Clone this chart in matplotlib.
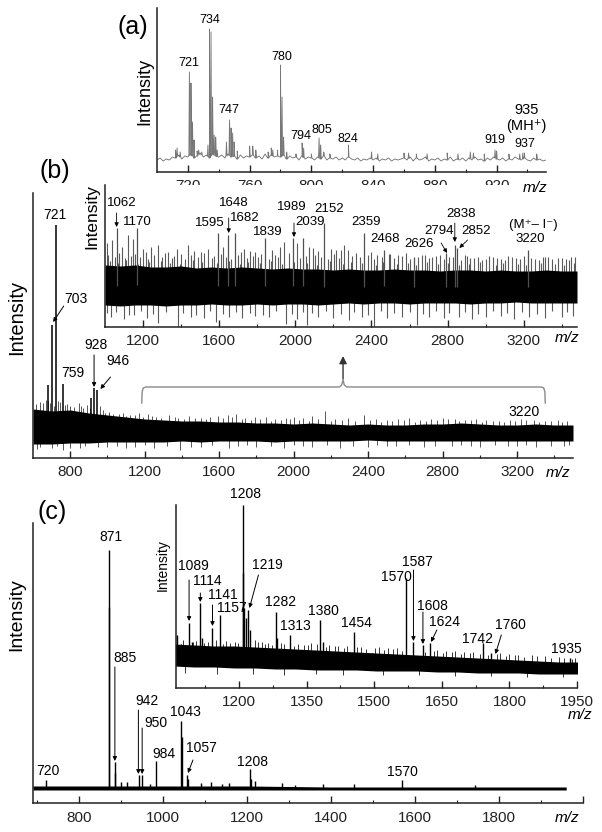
import matplotlib
matplotlib.use('Agg')
import numpy as np
import matplotlib.pyplot as plt
from matplotlib.ticker import FixedLocator
from matplotlib.lines import Line2D

plt.rcParams['font.family'] = ['Liberation Sans', 'DejaVu Sans']
plt.rcParams['axes.linewidth'] = 1.1

# ======================= DATA =======================
# ---- (a) MS spectrum, 700-952 ----
a_base_mz = np.arange(700, 953, 2)
a_base_int = [12, 14, 11, 13, 12, 15, 14, 17, 13, 16,
              15, 18, 14, 16, 19, 15, 17, 14, 18, 16,
              15, 17, 14, 18, 15, 16, 13, 17, 14, 16,
              15, 17, 14, 16, 13, 18, 14, 17, 15, 16,
              15, 17, 13, 16, 14, 15, 12, 16, 13, 15,
              14, 12, 15, 13, 16, 12, 14, 13, 15, 12,
              14, 12, 15, 13, 12, 14, 11, 13, 12, 14,
              12, 14, 11, 13, 12, 14, 11, 13, 12, 13,
              14, 12, 15, 11, 14, 12, 13, 15, 11, 13,
              12, 14, 11, 13, 12, 15, 11, 13, 12, 14,
              11, 14, 12, 15, 12, 13, 11, 14, 12, 15,
              13, 12, 14, 11, 13, 12, 15, 13, 12, 14,
              12, 11, 14, 12, 13, 11, 12]
a_pk_mz = [712, 713, 715, 721, 722, 723, 724, 726, 727, 729, 733, 734, 735, 736, 737, 738, 739,
           745, 747, 748, 749, 750, 752, 760, 762, 764, 772, 774, 775, 778, 780, 781, 782, 784,
           790, 794, 795, 800, 805, 806, 808, 812, 824, 839, 843, 860, 863, 868, 875, 888, 895,
           903, 905, 912, 919, 920, 928, 935, 937, 938, 946]
a_pk_int = [22, 24, 20, 100, 89, 50, 32, 21, 22, 20, 27, 143, 140, 75, 37, 35, 22,
            30, 52, 44, 39, 30, 21, 26, 26, 22, 20, 24, 22, 22, 107, 75, 35, 20,
            18, 29, 24, 18, 34, 27, 20, 18, 27, 20, 18, 19, 19, 18, 18, 19, 18,
            20, 19, 18, 22, 21, 18, 18, 19, 19, 18]
a_ticks = [720, 760, 800, 840, 880, 920]
a_minor = [740, 780, 820, 860, 900, 940]

# ---- (b) main spectrum, 600-3500 ----
b_band_mz = np.arange(600, 3501, 100)
b_band_hi = [49, 47, 48, 45, 43, 41, 39, 38, 37, 37,
             36, 36, 35, 35, 34, 35, 34, 33, 34, 33,
             33, 34, 34, 35, 34, 33, 33, 34, 33, 33]
b_band_lo = [14, 14, 15, 15, 16, 16, 16, 16, 17, 16,
             17, 17, 17, 16, 17, 17, 17, 17, 18, 17,
             17, 17, 17, 17, 17, 17, 17, 17, 17, 17]
b_pk_mz = [681, 703, 721, 759, 910, 928, 946]
b_pk_int = [73, 133, 233, 74, 60, 70, 68]
b_up_mz = [640, 668, 690, 735, 780, 800, 845, 870, 890, 960, 989, 1030, 1081, 1120, 1170, 1215,
           1260, 1330, 1380, 1440, 1500, 1550, 1595, 1648, 1692, 1740, 1790, 1849, 1900, 1960,
           2000, 2050, 2100, 2167, 2220, 2290, 2378, 2440, 2500, 2560, 2620, 2680, 2740, 2800,
           2865, 2920, 2980, 3032, 3100, 3160, 3220, 3290, 3350, 3420, 3470,
           615, 655, 680, 715, 745, 770, 820, 860, 905, 975, 1010, 1060, 1100, 1150, 1190, 1240,
           1290, 1360, 1410, 1470, 1530, 1620, 1670, 1720, 1770, 1820, 1880, 1930, 1980, 2030,
           2080, 2130, 2200, 2260, 2330, 2410, 2470, 2530, 2590, 2650, 2710, 2770, 2830, 2890,
           2950, 3010, 3070, 3130, 3190, 3250, 3320, 3380, 3440]
b_up_int = [56, 58, 55, 57, 54, 52, 55, 50, 53, 52, 45, 44, 45, 43, 45, 44,
            41, 43, 40, 42, 40, 41, 42, 43, 44, 40, 41, 41, 39, 40,
            41, 40, 42, 47, 39, 40, 43, 39, 38, 39, 40, 38, 39, 40,
            39, 38, 39, 38, 37, 38, 39, 38, 37, 38, 37,
            54, 55, 57, 52, 56, 53, 51, 52, 50, 48, 46, 44, 42, 43, 41, 42,
            40, 41, 39, 40, 39, 40, 41, 39, 38, 39, 37, 38, 39, 38,
            37, 39, 37, 38, 37, 38, 36, 37, 38, 36, 37, 38, 39, 37,
            38, 36, 37, 36, 37, 38, 36, 37, 36]
b_dn_mz = [620, 700, 760, 850, 1000, 1100, 1250, 1389, 1500, 1650, 1800, 1950, 2100, 2250,
           2400, 2550, 2700, 2850, 3000, 3150, 3300, 3450,
           640, 730, 800, 880, 950, 1050, 1150, 1200, 1320, 1450, 1560, 1700, 1750, 1880,
           2000, 2050, 2180, 2320, 2450, 2500, 2620, 2760, 2900, 2950, 3080, 3200, 3250, 3380, 3480]
b_dn_int = [9, 10, 8, 10, 11, 10, 10, 8, 11, 10, 11, 10, 11, 10, 11, 12, 11, 12, 11, 12, 11, 12,
            11, 12, 10, 12, 11, 12, 11, 13, 12, 11, 13, 12, 13, 12,
            13, 12, 13, 12, 13, 12, 13, 12, 13, 12, 13, 12, 13, 12, 13]
b_ticks = [800, 1200, 1600, 2000, 2400, 2800, 3200]
b_minor = [1000, 1400, 1800, 2200, 2600, 3000, 3400]

# ---- (b) inset, 1000-3480 ----
bi_band_mz = np.arange(1000, 3481, 80)
bi_band_hi = [62, 61, 62, 60, 60, 61, 59, 60, 59, 60,
              59, 58, 59, 58, 58, 57, 58, 57, 57, 58,
              57, 57, 56, 57, 57, 56, 57, 56, 56, 57,
              56, 56]
bi_band_lo = [22, 21, 22, 22, 21, 22, 22, 23, 22, 22,
              23, 22, 23, 23, 22, 23, 24, 23, 24, 24,
              23, 24, 24, 24, 23, 24, 24, 25, 24, 24,
              24, 24]
bi_pk_mz = [1062, 1170, 1595, 1648, 1682, 1839, 1989, 2039, 2152, 2359, 2468, 2626, 2794, 2838, 2852, 3220]
bi_pk_int = [99, 99, 94, 92, 94, 89, 89, 89, 104, 94, 77, 70, 74, 82, 79, 77]
bi_up_mz = [1008, 1035, 1090, 1120, 1147, 1200, 1240, 1280, 1333, 1380, 1435, 1470, 1504, 1540,
            1620, 1728, 1760, 1787, 1880, 1920, 1941, 2011, 2070, 2091, 2120, 2190, 2213, 2240,
            2256, 2277, 2320, 2400, 2430, 2500, 2540, 2580, 2680, 2720, 2760, 2827, 2900, 2940,
            2981, 3040, 3080, 3120, 3160, 3260, 3300, 3328, 3380, 3420, 3450,
            1015, 1050, 1075, 1105, 1135, 1160, 1185, 1215, 1225, 1260,
            1300, 1315, 1350, 1365, 1400, 1420, 1450, 1490, 1520, 1560,
            1575, 1610, 1635, 1660, 1700, 1715, 1745, 1775, 1805, 1820,
            1860, 1895, 1910, 1965, 2025, 2055, 2105, 2135, 2170, 2205,
            2230, 2300, 2340, 2380, 2415, 2455, 2490, 2520, 2560, 2600,
            2645, 2665, 2700, 2740, 2780, 2810, 2870, 2890, 2920, 2960,
            3000, 3020, 3060, 3100, 3140, 3180, 3200, 3240, 3280, 3310,
            3350, 3400, 3440, 3470,
            1025, 1068, 1112, 1175, 1232, 1292, 1342, 1392, 1462, 1512,
            1588, 1652, 1708, 1752, 1812, 1872, 1932, 1995, 2062, 2112,
            2182, 2248, 2292, 2352, 2422, 2462, 2532, 2592, 2632, 2692,
            2752, 2802, 2862, 2912, 2972, 3052, 3092, 3172, 3212, 3292,
            3362, 3412, 3462]
bi_up_int = [84, 87, 80, 92, 88, 78, 80, 82, 75, 78, 82, 76, 75, 78,
             80, 78, 76, 75, 77, 80, 85, 84, 80, 79, 76, 78, 77, 77,
             82, 77, 74, 75, 72, 73, 72, 74, 72, 70, 72, 70, 71, 69,
             67, 70, 68, 71, 69, 68, 70, 70, 69, 68, 70,
             72, 70, 74, 69, 71, 73, 70, 75, 68, 72,
             70, 74, 69, 71, 73, 68, 72, 70, 74, 69,
             71, 73, 70, 68, 72, 75, 69, 71, 70, 73,
             68, 72, 70, 74, 69, 71, 72, 70, 68, 73,
             69, 71, 70, 72, 68, 70, 73, 69, 71, 68,
             70, 72, 69, 71, 68, 70, 67, 72, 69, 70,
             68, 71, 69, 67, 70, 68, 71, 69, 67, 70,
             68, 69, 67, 70,
             66, 64, 67, 63, 65, 66, 64, 63, 67, 65,
             64, 66, 63, 65, 64, 66, 63, 65, 64, 62,
             66, 63, 65, 64, 62, 65, 63, 64, 62, 65,
             63, 64, 62, 63, 65, 62, 64, 63, 62, 64,
             63, 62, 64]
bi_dn_mz = [1030, 1100, 1150, 1220, 1280, 1381, 1450, 1520, 1584, 1650, 1720, 1790, 1860, 1950,
            2011, 2060, 2120, 2200, 2280, 2350, 2411, 2480, 2560, 2640, 2700, 2780, 2860, 2930,
            3000, 3080, 3150, 3230, 3310, 3400, 3460,
            1010, 1060, 1125, 1190, 1250, 1320, 1410, 1480, 1550, 1620,
            1690, 1760, 1830, 1900, 1980, 2040, 2090, 2160, 2240, 2310,
            2380, 2450, 2520, 2600, 2670, 2740, 2810, 2890, 2960, 3040,
            3110, 3190, 3270, 3350, 3430]
bi_dn_int = [10, 8, 12, 9, 4, 0, 10, 9, 5, 10, 9, 11, 10, 3,
             8, 2, 10, 9, 7, 10, 0, 9, 10, 2, 10, 9, 10, 8,
             10, 11, 8, 10, 9, 10, 11,
             14, 15, 12, 16, 13, 15, 14, 12, 16, 13,
             15, 14, 12, 16, 13, 15, 14, 16, 13, 15,
             12, 16, 14, 15, 13, 16, 14, 15, 13, 16,
             14, 15, 13, 16, 15]
bi_ticks = [1200, 1600, 2000, 2400, 2800, 3200]
bi_minor = [1400, 1800, 2200, 2600, 3000, 3400]

# ---- (c) main spectrum, 690-2000 ----
c_band_mz = [690, 800, 1000, 1200, 1400, 1600, 1800, 1960]
c_band_lo = [13, 13, 13, 13, 13, 13, 13, 13]
c_band_hi = [17, 17, 17, 17, 16, 16, 16, 16]
c_pk_mz = [720, 871, 872, 885, 886, 900, 914, 942, 950, 968, 984, 1043, 1044, 1057, 1058,
           1089, 1114, 1141, 1157, 1208, 1210, 1219, 1282, 1313, 1380, 1454, 1570, 1742]
c_pk_int = [23, 253, 196, 41, 30, 21, 21, 28, 28, 19, 42, 82, 66, 28, 24,
            20, 21, 19, 20, 34, 24, 22, 20, 18, 19, 19, 23, 18]
c_ticks = [800, 1000, 1200, 1400, 1600, 1800, 2000]
c_ticklabels = ['800', '1000', '1200', '1400', '1600', '1800', '']
c_minor = [700, 900, 1100, 1300, 1500, 1700, 1900]

# ---- (c) inset, 1060-1950 ----
ci_band_mz = np.arange(1055, 1956, 45)
ci_band_hi = [44, 43, 42, 42, 41, 40, 39, 38, 37, 36,
              35, 34, 33, 32, 31, 30, 29, 28, 27, 26, 26]
ci_band_lo = [22, 21, 21, 20, 20, 19, 19, 18, 18, 18,
              17, 17, 17, 16, 16, 15, 15, 15, 14, 14, 14]
ci_pk_mz = [1063, 1070, 1089, 1095, 1114, 1118, 1141, 1157, 1208, 1209, 1212, 1216, 1219, 1225,
            1282, 1285, 1313, 1380, 1386, 1454, 1495, 1570, 1587, 1608, 1624, 1742, 1760, 1935]
ci_pk_int = [53, 44, 65, 46, 85, 50, 60, 73, 183, 115, 80, 70, 78, 58,
             76, 50, 53, 68, 46, 56, 35, 110, 46, 43, 45, 45, 35, 30]
ci_up_mz = [1075, 1105, 1130, 1170, 1180, 1190, 1235, 1250, 1265, 1300, 1330, 1345, 1360, 1400,
            1420, 1440, 1470, 1510, 1530, 1550, 1640, 1660, 1680, 1700, 1720, 1780, 1800, 1820,
            1850, 1880, 1910, 1945,
            1062, 1098, 1122, 1148, 1165, 1198, 1242, 1258, 1272, 1292,
            1322, 1352, 1372, 1392, 1412, 1432, 1462, 1482, 1502, 1522,
            1542, 1562, 1612, 1632, 1652, 1672, 1692, 1712, 1735, 1752,
            1772, 1792, 1812, 1832, 1862, 1892, 1922, 1940]
ci_up_int = [48, 47, 46, 47, 45, 46, 48, 46, 45, 44, 44, 43, 45, 43,
             42, 42, 41, 41, 40, 40, 38, 37, 37, 36, 36, 35, 34, 33,
             33, 32, 31, 30,
             47, 46, 45, 48, 44, 45, 46, 44, 43, 45,
             42, 43, 44, 41, 42, 40, 41, 39, 40, 38,
             39, 37, 36, 37, 35, 36, 34, 35, 34, 33,
             34, 32, 33, 31, 32, 30, 30, 29]
ci_dn_mz = [1080, 1150, 1230, 1300, 1370, 1430, 1520, 1600, 1680, 1760, 1840, 1920]
ci_dn_int = [15, 14, 14, 13, 14, 13, 13, 13, 12, 12, 11, 11]
ci_ticks = [1200, 1350, 1500, 1650, 1800, 1950]
ci_minor = [1125, 1275, 1425, 1575, 1725, 1875]

# ---- peak annotations (text, x, y) ----
a_labels = [('721', 720.7, 109), ('734', 734.3, 152), ('747', 746.8, 62), ('780', 780.7, 115),
            ('794', 793.2, 36), ('805', 807, 42), ('824', 823.8, 33), ('919', 918.8, 32),
            ('937', 938.2, 28)]
b_labels = [('721', 719, 243), ('703', 832, 159), ('759', 816, 85), ('928', 940, 113),
            ('946', 1054, 97), ('3220', 3238, 46)]
bi_labels = [('1062', 1088, 124), ('1170', 1172, 105), ('1595', 1552, 104), ('1648', 1675, 124),
             ('1682', 1733, 109), ('1839', 1856, 95), ('1989', 1979, 120), ('2039', 2078, 105),
             ('2152', 2176, 118), ('2359', 2372, 105), ('2468', 2473, 88), ('2626', 2651, 83),
             ('2794', 2757, 96), ('2838', 2873, 113), ('2852', 2948, 96), ('3220', 3234, 88)]
c_labels = [('720', 725, 32), ('871', 875, 266), ('885', 909, 145), ('942', 961, 102),
            ('950', 983, 80), ('1043', 1052, 91), ('984', 1001, 49), ('1057', 1090, 55),
            ('1208', 1213, 41), ('1570', 1570, 31)]
ci_labels = [('1089', 1098, 122), ('1114', 1130, 107), ('1141', 1163, 93), ('1157', 1184, 80),
             ('1208', 1214, 194), ('1219', 1262, 123), ('1282', 1293, 86), ('1313', 1324, 62),
             ('1380', 1387, 77), ('1454', 1460, 65), ('1570', 1549, 111), ('1587', 1595, 126),
             ('1608', 1630, 82), ('1624', 1656, 66), ('1742', 1730, 49), ('1760', 1803, 63),
             ('1935', 1927, 39)]
# arrows (x_tail, y_tail, x_head, y_head)
b_arrows = [(765, 152, 708, 136), (928, 103, 928, 71), (1016, 81, 962, 69)]
bi_arrows = [(1061, 114, 1061, 100), (1650, 109, 1650, 94), (1993, 104, 1993, 90),
             (2766, 84, 2797, 74), (2838, 104, 2838, 85), (2905, 87, 2862, 79)]
c_arrows = [(885, 136, 885, 42), (941, 93, 941, 29), (950, 75, 950, 29), (1071, 43, 1059, 30)]
ci_arrows = [(1089, 108, 1089, 67), (1114, 95, 1114, 86), (1141, 83, 1141, 62),
             (1243, 113, 1223, 80), (1587, 118, 1587, 47), (1608, 76, 1608, 44),
             (1639, 58, 1626, 46), (1782, 53, 1769, 34)]

# ======================= LAYOUT =======================
W, H = 602, 832
fig = plt.figure(figsize=(W / 100, H / 100), dpi=100)


def box(l, t, r, b):
    return [l / W, 1 - b / H, (r - l) / W, (b - t) / H]


def ftext(x, y, s, **kw):
    fig.text(x / W, 1 - y / H, s, **kw)


def setup(ax, xlim, ylim, major, minor, labels=None, pad=5):
    ax.set_xlim(*xlim)
    ax.set_ylim(*ylim)
    for s in ['top', 'right']:
        ax.spines[s].set_visible(False)
    for s in ['left', 'bottom']:
        ax.spines[s].set_color('#222222')
    ax.set_yticks([])
    ax.xaxis.set_major_locator(FixedLocator(major))
    ax.xaxis.set_minor_locator(FixedLocator(minor))
    if labels is not None:
        ax.set_xticklabels(labels)
    ax.tick_params(axis='x', which='major', direction='in', length=5, width=1,
                   labelsize=11, pad=pad, colors='#222222')
    ax.tick_params(axis='x', which='minor', direction='in', length=2.5, width=0.8, colors='#222222')


def band(ax, mz, lo, hi, up_mz, up_int, dn_mz, dn_int, grass='#555555', lw=0.7):
    ax.fill_between(mz, lo, hi, color='black', lw=0, zorder=2)
    mid = (np.array(lo) + np.array(hi)) / 2
    ax.vlines(up_mz, np.interp(up_mz, mz, mid), up_int, color=grass, lw=lw, zorder=1)
    ax.vlines(dn_mz, dn_int, np.interp(dn_mz, mz, mid), color=grass, lw=lw, zorder=1)


def peaks(ax, mz, lo, hi, pk_mz, pk_int, color='black', lw=1.0):
    mid = (np.array(lo) + np.array(hi)) / 2
    ax.vlines(pk_mz, np.interp(pk_mz, mz, mid), pk_int, color=color, lw=lw, zorder=3)


def arrows(ax, lst, lw=0.7):
    for x0, y0, x1, y1 in lst:
        ax.annotate('', xy=(x1, y1), xytext=(x0, y0),
                    arrowprops=dict(arrowstyle='-|>', lw=lw, color='black',
                                    mutation_scale=6, shrinkA=0, shrinkB=0))


def labels(ax, lst, fs):
    for t, x, y in lst:
        ax.text(x, y, t, ha='center', va='center', fontsize=fs, color='black', zorder=5)


# ---------------- (a) ----------------
axa = fig.add_axes(box(157, 8, 546, 172))
setup(axa, (700, 952), (0, 164), a_ticks, a_minor)
xs = list(a_base_mz)
ys = list(a_base_int)
for m, h in zip(a_pk_mz, a_pk_int):
    b0 = np.interp(m, a_base_mz, a_base_int)
    xs += [m - 0.35, m, m + 0.35]
    ys += [b0, h, b0]
order = np.argsort(xs, kind='stable')
axa.plot(np.array(xs)[order], np.array(ys)[order], color='#777777', lw=0.65)
labels(axa, a_labels, 9)
axa.text(939.3, 54, '935\n(MH⁺)', ha='center', va='center', fontsize=10.5, linespacing=1.25)
ftext(133, 27, '(a)', fontsize=18, ha='center', va='center')
ftext(145, 91, 'Intensity', fontsize=13, rotation=90, ha='center', va='center')
ftext(535, 188, 'm/z', fontsize=11, style='italic', ha='center', va='center')

# ---------------- (b) main ----------------
axb = fig.add_axes(box(33, 193, 573, 458))
setup(axb, (600, 3500), (0, 265), b_ticks, b_minor)
band(axb, b_band_mz, b_band_lo, b_band_hi, b_up_mz, b_up_int, b_dn_mz, b_dn_int)
peaks(axb, b_band_mz, b_band_lo, b_band_hi, b_pk_mz, b_pk_int, lw=1.1)
labels(axb, b_labels, 10)
arrows(axb, b_arrows)
# bracket pointing to the inset
br_x = [1184, 1186, 1192, 1205, 2245, 2258, 2265, 2272, 2285, 3330, 3343, 3349, 3351]
br_y = [55, 66, 70, 71, 71, 73, 78, 73, 71, 71, 70, 66, 55]
axb.add_line(Line2D(br_x, br_y, color='#8a8a8a', lw=1.0))
axb.annotate('', xy=(2265, 102), xytext=(2265, 79),
             arrowprops=dict(arrowstyle='-|>', lw=1.0, color='#333333',
                             mutation_scale=11, shrinkA=0, shrinkB=0))
ftext(55, 171, '(b)', fontsize=18, ha='center', va='center')
ftext(17, 317, 'Intensity', fontsize=14.5, rotation=90, ha='center', va='center')
ftext(558, 473, 'm/z', fontsize=11, style='italic', ha='center', va='center')

# ---------------- (b) inset ----------------
axbi = fig.add_axes(box(105, 185, 577, 327))
setup(axbi, (1000, 3480), (0, 142), bi_ticks, bi_minor)
band(axbi, bi_band_mz, bi_band_lo, bi_band_hi, bi_up_mz, bi_up_int, bi_dn_mz, bi_dn_int,
     grass='#5a5a5a', lw=0.8)
peaks(axbi, bi_band_mz, bi_band_lo, bi_band_hi, bi_pk_mz, bi_pk_int, color='#505050', lw=0.9)
labels(axbi, bi_labels, 9.5)
axbi.text(3252, 102, '(M⁺– I⁻)', ha='center', va='center', fontsize=9.5)
arrows(axbi, bi_arrows, lw=0.6)
ftext(92, 217, 'Intensity', fontsize=12.5, rotation=90, ha='center', va='center')
ftext(567, 338, 'm/z', fontsize=11, style='italic', ha='center', va='center')

# ---------------- (c) main ----------------
axc = fig.add_axes(box(33, 523, 583, 803))
setup(axc, (690, 2000), (0, 280), c_ticks, c_minor, labels=c_ticklabels, pad=6)
axc.fill_between(c_band_mz, c_band_lo, c_band_hi, color='black', lw=0)
peaks(axc, c_band_mz, c_band_lo, c_band_hi, c_pk_mz, c_pk_int, lw=1.0)
labels(axc, c_labels, 10)
arrows(axc, c_arrows)
ftext(52, 512, '(c)', fontsize=18, ha='center', va='center')
ftext(17, 615, 'Intensity', fontsize=14, rotation=90, ha='center', va='center')
ftext(567, 818, 'm/z', fontsize=11, style='italic', ha='center', va='center')

# ---------------- (c) inset ----------------
axci = fig.add_axes(box(176, 505, 577, 688))
setup(axci, (1060, 1950), (0, 183), ci_ticks, ci_minor)
band(axci, ci_band_mz, ci_band_lo, ci_band_hi, ci_up_mz, ci_up_int, ci_dn_mz, ci_dn_int,
     grass='#333333', lw=0.7)
peaks(axci, ci_band_mz, ci_band_lo, ci_band_hi, ci_pk_mz, ci_pk_int, lw=1.0)
labels(axci, ci_labels, 10)
arrows(axci, ci_arrows)
ftext(163, 565, 'Intensity', fontsize=10, rotation=90, ha='center', va='center')
ftext(580, 715, 'm/z', fontsize=11, style='italic', ha='center', va='center')

fig.savefig('out.png', dpi=100, facecolor='white')
